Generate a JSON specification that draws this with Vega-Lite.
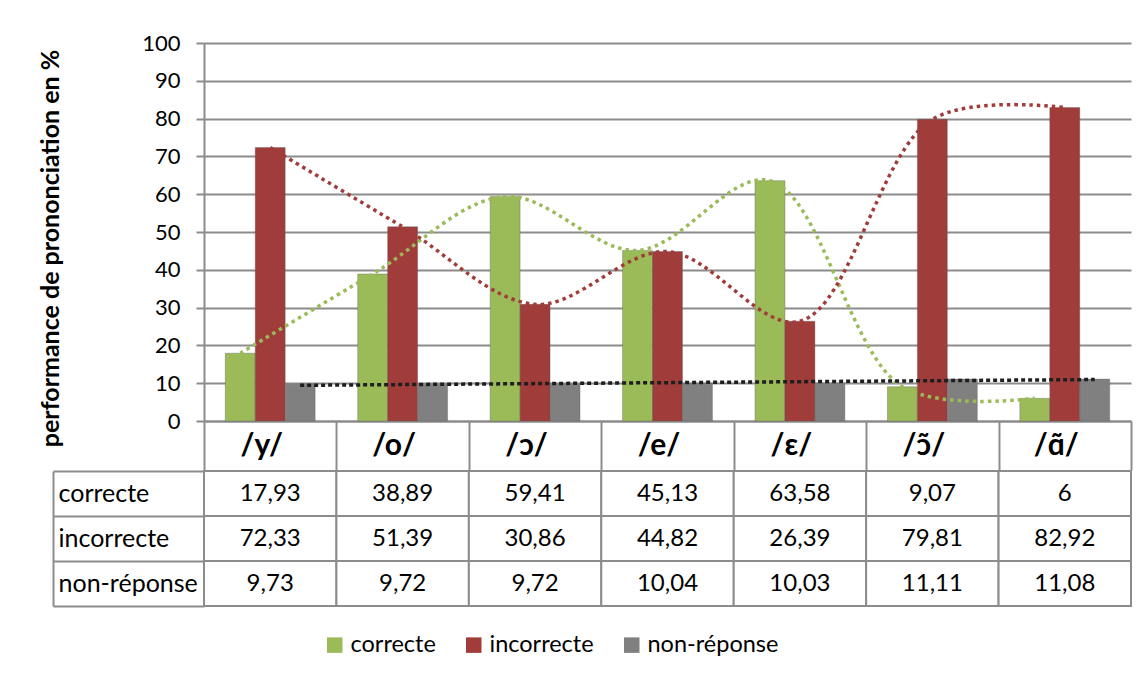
{
  "$schema": "https://vega.github.io/schema/vega-lite/v6.json",
  "background": "white",
  "padding": {"left": 38, "top": 32, "right": 5, "bottom": 5},
  "config": {
    "locale": {"number": {"decimal": ",", "thousands": " ", "grouping": [3], "currency": ["", " €"]}},
    "font": "Lato",
    "view": {"stroke": null},
    "axis": {"labelFont": "Lato", "titleFont": "Lato", "labelColor": "black", "titleColor": "black"}
  },
  "datasets": {
    "d": [
      {"son": "/y/", "rang": 1, "serie": "correcte", "valeur": 17.93},
      {"son": "/o/", "rang": 2, "serie": "correcte", "valeur": 38.89},
      {"son": "/ɔ/", "rang": 3, "serie": "correcte", "valeur": 59.41},
      {"son": "/e/", "rang": 4, "serie": "correcte", "valeur": 45.13},
      {"son": "/ɛ/", "rang": 5, "serie": "correcte", "valeur": 63.58},
      {"son": "/ɔ̃/", "rang": 6, "serie": "correcte", "valeur": 9.07},
      {"son": "/ɑ̃/", "rang": 7, "serie": "correcte", "valeur": 6},
      {"son": "/y/", "rang": 1, "serie": "incorrecte", "valeur": 72.33},
      {"son": "/o/", "rang": 2, "serie": "incorrecte", "valeur": 51.39},
      {"son": "/ɔ/", "rang": 3, "serie": "incorrecte", "valeur": 30.86},
      {"son": "/e/", "rang": 4, "serie": "incorrecte", "valeur": 44.82},
      {"son": "/ɛ/", "rang": 5, "serie": "incorrecte", "valeur": 26.39},
      {"son": "/ɔ̃/", "rang": 6, "serie": "incorrecte", "valeur": 79.81},
      {"son": "/ɑ̃/", "rang": 7, "serie": "incorrecte", "valeur": 82.92},
      {"son": "/y/", "rang": 1, "serie": "non-réponse", "valeur": 9.73},
      {"son": "/o/", "rang": 2, "serie": "non-réponse", "valeur": 9.72},
      {"son": "/ɔ/", "rang": 3, "serie": "non-réponse", "valeur": 9.72},
      {"son": "/e/", "rang": 4, "serie": "non-réponse", "valeur": 10.04},
      {"son": "/ɛ/", "rang": 5, "serie": "non-réponse", "valeur": 10.03},
      {"son": "/ɔ̃/", "rang": 6, "serie": "non-réponse", "valeur": 11.11},
      {"son": "/ɑ̃/", "rang": 7, "serie": "non-réponse", "valeur": 11.08}
    ]
  },
  "data": {"name": "d"},
  "spacing": -13,
  "vconcat": [
    {
      "width": 927,
      "height": 378,
      "encoding": {
        "y": {
          "field": "valeur", "type": "quantitative",
          "scale": {"domain": [0, 100], "nice": false},
          "axis": {
            "title": "performance de prononciation en %", "titleFontSize": 25, "titleFontWeight": "bold",
            "titlePadding": 78, "titleY": 205, "values": [0, 10, 20, 30, 40, 50, 60, 70, 80, 90, 100], "tickCount": 20,
            "labelOverlap": false, "labelFontSize": 22, "labelPadding": 16, "tickSize": 8, "tickColor": "#8c8c8c", "tickWidth": 2,
            "gridColor": "#8c8c8c", "gridWidth": 2, "domainColor": "#8c8c8c", "domainWidth": 2
          }
        }
      },
      "layer": [
        {
          "mark": {"type": "bar", "strokeWidth": 1, "stroke": "#5a5a5a", "strokeOpacity": 0.35},
          "encoding": {
            "x": {
              "field": "son", "type": "nominal",
              "sort": ["/y/", "/o/", "/ɔ/", "/e/", "/ɛ/", "/ɔ̃/", "/ɑ̃/"],
              "scale": {"paddingInner": 0, "paddingOuter": 0},
              "axis": {
                "title": null, "labelAngle": 0, "labelFontSize": 30, "labelFontWeight": "bold", "labelOffset": -9,
                "tickBand": "extent", "tickSize": 49, "tickColor": "#8c8c8c", "tickWidth": 2,
                "domainColor": "#8c8c8c", "domainWidth": 2, "labelPadding": -25, "labelBaseline": "middle", "grid": false
              }
            },
            "xOffset": {
              "field": "serie", "type": "nominal",
              "sort": ["correcte", "incorrecte", "non-réponse"],
              "scale": {"paddingInner": 0, "paddingOuter": 0.71}
            },
            "color": {
              "field": "serie", "type": "nominal",
              "scale": {"domain": ["correcte", "incorrecte", "non-réponse"], "range": ["#9bbb59", "#a03c3a", "#808080"]},
              "legend": {
                "title": null, "orient": "none", "direction": "horizontal", "legendX": 119, "legendY": 590,
                "symbolType": "square", "symbolSize": 240, "symbolStrokeWidth": 0, "symbolOpacity": 1,
                "labelFontSize": 23.5, "labelColor": "black", "labelFont": "Lato", "labelOffset": 4, "columnPadding": 26
              }
            }
          }
        },
        {
          "transform": [{"filter": "datum.serie === 'correcte'"}],
          "mark": {"type": "line", "color": "#9bbb59", "strokeWidth": 3.5, "strokeDash": [3.5, 4], "interpolate": "catmull-rom"},
          "encoding": {
            "x": {"field": "rang", "type": "quantitative", "scale": {"domain": [0.726, 7.726], "nice": false, "zero": false}, "axis": null}
          }
        },
        {
          "transform": [{"filter": "datum.serie === 'incorrecte'"}],
          "mark": {"type": "line", "color": "#a03c3a", "strokeWidth": 3.5, "strokeDash": [3.5, 4], "interpolate": "catmull-rom"},
          "encoding": {
            "x": {"field": "rang", "type": "quantitative", "scale": {"domain": [0.5, 7.5], "nice": false, "zero": false}, "axis": null}
          }
        },
        {
          "transform": [
            {"filter": "datum.serie === 'non-réponse'"},
            {"regression": "valeur", "on": "rang", "method": "linear"}
          ],
          "mark": {"type": "line", "color": "#1e1e1e", "strokeWidth": 3.5, "strokeDash": [4, 3]},
          "encoding": {
            "x": {"field": "rang", "type": "quantitative", "scale": {"domain": [0.274, 7.274], "nice": false, "zero": false}, "axis": null}
          }
        }
      ],
      "resolve": {"scale": {"x": "independent"}}
    },
    {
      "width": 927,
      "height": 135,
      "layer": [
        {
          "mark": {"type": "rect", "fill": "white", "stroke": "#8c8c8c", "strokeWidth": 2},
          "encoding": {
            "x": {"field": "son", "type": "nominal", "sort": ["/y/", "/o/", "/ɔ/", "/e/", "/ɛ/", "/ɔ̃/", "/ɑ̃/"], "scale": {"paddingInner": 0, "paddingOuter": 0}, "axis": null},
            "y": {
              "field": "serie", "type": "nominal", "sort": ["correcte", "incorrecte", "non-réponse"],
              "scale": {"paddingInner": 0, "paddingOuter": 0},
              "axis": {
                "title": null, "orient": "left", "tickBand": "extent", "tickSize": 151, "tickColor": "#8c8c8c", "tickWidth": 2,
                "labelAlign": "left", "labelPadding": -5, "labelFontSize": 25, "domain": false
              }
            }
          }
        },
        {
          "mark": {"type": "text", "fontSize": 24, "font": "Lato", "color": "black"},
          "encoding": {
            "x": {"field": "son", "type": "nominal", "sort": ["/y/", "/o/", "/ɔ/", "/e/", "/ɛ/", "/ɔ̃/", "/ɑ̃/"]},
            "y": {
              "field": "serie", "type": "nominal", "sort": ["correcte", "incorrecte", "non-réponse"],
              "axis": {"title": null, "orient": "left", "offset": 151, "ticks": false, "labels": false, "domain": true, "domainColor": "#8c8c8c", "domainWidth": 2}
            },
            "text": {"field": "valeur", "type": "quantitative", "format": ".2~f"}
          }
        }
      ],
      "resolve": {"axis": {"y": "independent"}}
    }
  ]
}
